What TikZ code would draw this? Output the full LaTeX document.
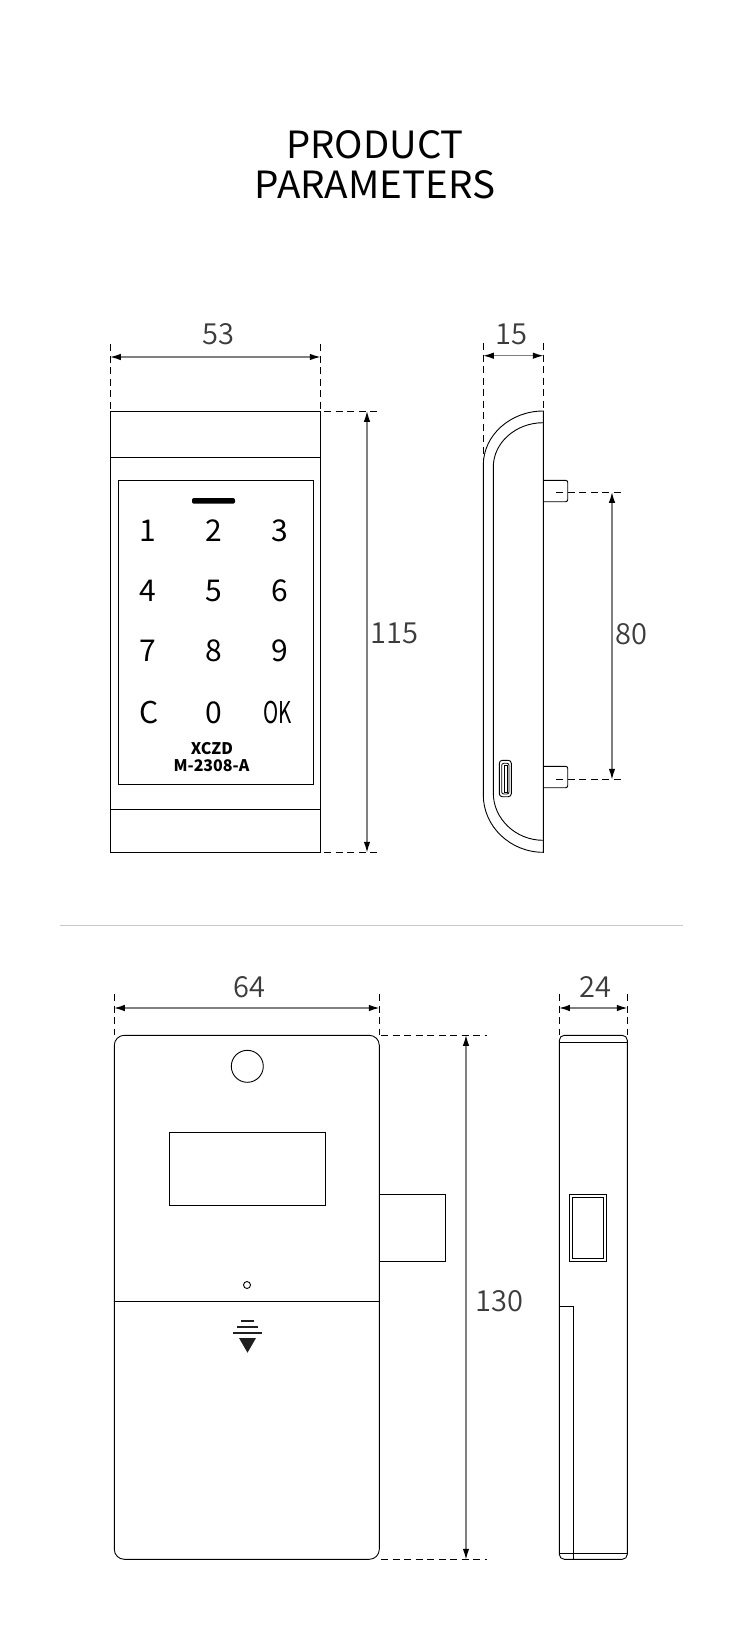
\documentclass[tikz,border=0pt]{standalone}
\usepackage{fontspec}
\setmainfont{Noto Sans CJK SC}
\newfontfamily\lightf[UprightFont={* DemiLight}]{Noto Sans CJK SC}
\usetikzlibrary{arrows.meta}
\definecolor{dimtext}{HTML}{3C3C3C}
\definecolor{dimline}{HTML}{808080}
\definecolor{rulecol}{HTML}{C9C9C9}
\tikzset{
  part/.style={draw=black,line width=0.9pt,line join=miter},
  dashline/.style={draw=black,line width=0.9pt,dash pattern=on 7pt off 4.5pt},
  dimarrow/.style={draw=dimline,line width=1.5pt,{Latex[black,length=11pt,width=6.5pt]}-{Latex[black,length=11pt,width=6.5pt]},shorten <=-0.5pt,shorten >=-0.5pt},
  dimlabel/.style={inner sep=0pt,text=dimtext,font=\lightf\fontsize{29}{31}\selectfont},
  keylabel/.style={inner sep=0pt,text=black,font=\fontsize{30}{32}\selectfont},
  modellabel/.style={inner sep=0pt,text=black,font=\bfseries\fontsize{16}{17}\selectfont},
  titlelabel/.style={inner sep=0pt,text=black,font=\fontsize{37.5}{39}\selectfont}
}
\begin{document}
\begin{tikzpicture}[x=1pt,y=-1pt]
\useasboundingbox[fill=white] (0,0) rectangle (750,1647);
% title
\node[titlelabel] (t1) at (375,145) {\scalebox{1.02}[1]{PRODUCT}};
\node[titlelabel] (t2) at (375,184.5) {\scalebox{1.03}[1]{PARAMETERS}};
% --- front view
\draw[part] (110.3,411.3) rectangle (320.3,852.3);
\draw[part] (110.3,457.3) -- (320.3,457.3);
\draw[part] (110.3,809.3) -- (320.3,809.3);
\draw[part] (118.3,480.3) rectangle (313.7,784.3);
\fill[black,rounded corners=2pt] (192,498) rectangle (235,503.7);
\node[keylabel] (k1) at (147.5,531) {1};
\node[keylabel] (k2) at (214,531) {2};
\node[keylabel] (k3) at (280,531) {3};
\node[keylabel] (k4) at (147.5,591) {4};
\node[keylabel] (k5) at (214,591) {5};
\node[keylabel] (k6) at (280,591) {6};
\node[keylabel] (k7) at (147.5,651) {7};
\node[keylabel] (k8) at (214,651) {8};
\node[keylabel] (k9) at (280,651) {9};
\node[keylabel] (kc) at (149,712) {C};
\node[keylabel] (k0) at (213.5,712.5) {0};
\node[keylabel] (kok) at (278,712) {\scalebox{0.68}[1]{OK}};
\node[modellabel] (m1) at (212,749) {XCZD};
\node[modellabel] (m2) at (211.5,766) {M-2308-A};
% dims front
\draw[dashline] (110.3,344) -- (110.3,411);
\draw[dashline] (320.3,344) -- (320.3,411);
\draw[dimarrow] (110.3,357) -- (320.3,357);
\node[dimlabel] (d53) at (218.5,334) {53};
\draw[dashline] (324,411.3) -- (381,411.3);
\draw[dashline] (324,852.3) -- (381,852.3);
\draw[dimarrow] (367,411.3) -- (367,852.3);
\node[dimlabel,anchor=west] (d115) at (370,633) {115};
% --- side view
\draw[part] (543.3,411) .. controls (510.3,411) and (483.3,435.3) .. (483.3,465)
  -- (483.3,795) .. controls (483.3,826.5) and (510.3,852.3) .. (543.3,852.3) -- cycle;
\draw[part] (543.3,422.7) .. controls (515.8,422.7) and (493.3,442.6) .. (493.3,467)
  -- (493.3,793) .. controls (493.3,819) and (515.8,840.3) .. (543.3,840.3);
\draw[part,rounded corners=2pt] (543.3,480.3) -- (567.7,480.3) -- (567.7,501.7) -- (543.3,501.7);
\draw[part,rounded corners=2pt] (543.3,766.3) -- (567.7,766.3) -- (567.7,787.7) -- (543.3,787.7);
\draw[part,rounded corners=3pt] (499.3,760.3) rectangle (511.3,796.7);
\draw[part,line width=0.8pt,rounded corners=2pt] (501.7,763.3) rectangle (509,794);
\draw[part,line width=0.7pt] (504,765) -- (504,792) -- (507,792) -- (507,765) -- cycle;
\draw[dashline] (483.3,343) -- (483.3,460);
\draw[dashline] (543.3,343) -- (543.3,411);
\draw[dimarrow] (483.3,355.7) -- (543.3,355.7);
\node[dimlabel] (d15) at (511,334) {15};
\draw[dashline] (556,492.3) -- (624,492.3);
\draw[dashline] (556,779.3) -- (624,779.3);
\draw[dimarrow] (612,492.3) -- (612,779.3);
\node[dimlabel] (d80) at (631,634) {80};
% divider
\draw[draw=rulecol,line width=1pt] (60,925.3) -- (683,925.3);
% --- back view
\draw[part,rounded corners=10pt] (114.3,1035.3) rectangle (379.3,1559.3);
\draw[part] (114.3,1301.3) -- (379.3,1301.3);
\draw[part] (247.3,1066.3) circle (16);
\draw[part] (169.3,1132.3) rectangle (325.7,1205.3);
\draw[part] (379.3,1194.3) -- (445.3,1194.3) -- (445.3,1261.3) -- (379.3,1261.3);
\draw[part] (247,1285) circle (3.5);
\fill[black!88] (241,1320) rectangle (254,1322);
\fill[black!88] (237,1326) rectangle (258,1328);
\fill[black!88] (233,1331.7) rectangle (262,1333.7);
\fill[black!88] (239,1338) -- (256,1338) -- (247.5,1352.7) -- cycle;
\draw[dashline] (114.3,994) -- (114.3,1035);
\draw[dashline] (379.3,994) -- (379.3,1035);
\draw[dimarrow] (114.3,1008) -- (379.3,1008);
\node[dimlabel] (d64) at (249,987) {64};
\draw[dashline] (381,1035.3) -- (487,1035.3);
\draw[dashline] (381,1559.3) -- (487,1559.3);
\draw[dimarrow] (466,1035.3) -- (466,1559.3);
\node[dimlabel,anchor=west] (d130) at (475,1301) {130};
% --- end view
\draw[part,rounded corners=5pt] (559.3,1035.3) rectangle (627.3,1559.3);
\draw[part] (559.3,1042) -- (627.3,1042);
\draw[part] (559.3,1553.3) -- (627.3,1553.3);
\draw[part] (569.3,1194.3) rectangle (606.7,1261.3);
\draw[part] (572.3,1197.3) rectangle (603.7,1258.3);
\draw[part] (559.3,1306) -- (573.3,1306) -- (573.3,1559.3);
\draw[dashline] (559.3,994) -- (559.3,1035);
\draw[dashline] (627.3,994) -- (627.3,1035);
\draw[dimarrow] (559.3,1008) -- (627.3,1008);
\node[dimlabel] (d24) at (595.5,987) {24};
\end{tikzpicture}
\end{document}
